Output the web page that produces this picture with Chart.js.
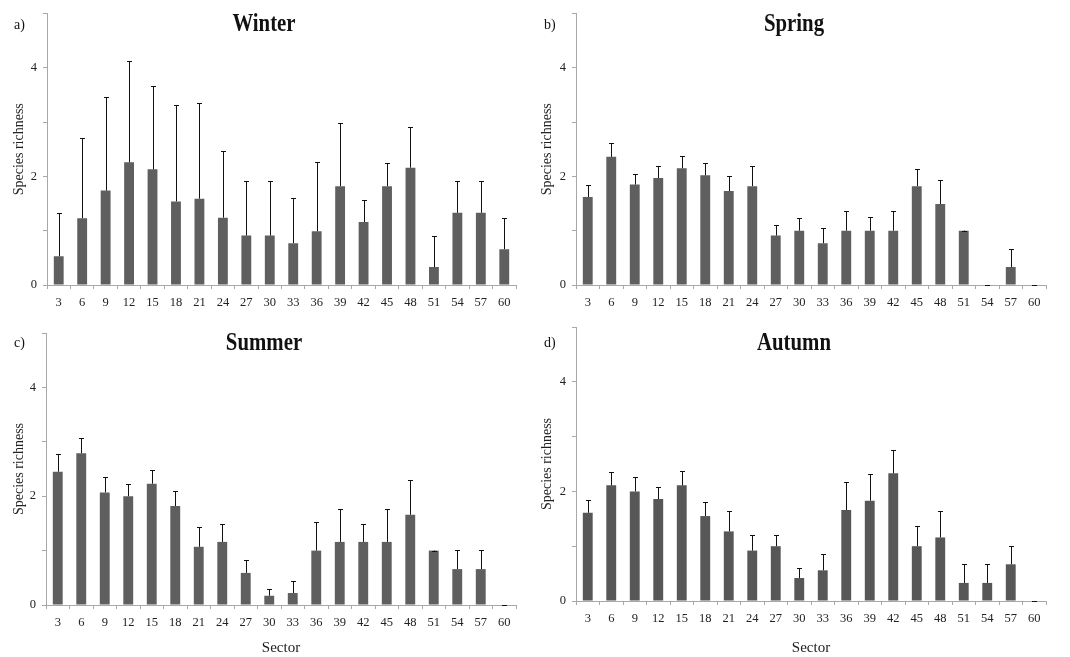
<!DOCTYPE html>
<html>
<head>
<meta charset="utf-8">
<title>Species richness by sector</title>
<script src="https://cdn.jsdelivr.net/npm/chart.js@4.4.1/dist/chart.umd.min.js"></script>
<style>
  body { margin: 0; background: #fff; }
  .panel { position: absolute; }
</style>
</head>
<body>
<div class="panel" style="left:0;top:0"><canvas id="winterChart" width="535" height="310"></canvas></div>
<div class="panel" style="left:535px;top:0"><canvas id="springChart" width="535" height="310"></canvas></div>
<div class="panel" style="left:0;top:310px"><canvas id="summerChart" width="535" height="347"></canvas></div>
<div class="panel" style="left:535px;top:310px"><canvas id="autumnChart" width="535" height="347"></canvas></div>
<script>
const sectors = ["3", "6", "9", "12", "15", "18", "21", "24", "27", "30", "33", "36", "39", "42", "45", "48", "51", "54", "57", "60"];
const yTicks = [0, 2, 4];

const winterMean = [0.53, 1.23, 1.74, 2.26, 2.13, 1.54, 1.59, 1.24, 0.91, 0.91, 0.77, 0.99, 1.82, 1.16, 1.82, 2.16, 0.33, 1.33, 1.33, 0.66];
const winterErr = [0.80, 1.48, 1.72, 1.87, 1.53, 1.78, 1.77, 1.22, 1.00, 1.00, 0.83, 1.27, 1.17, 0.41, 0.42, 0.75, 0.58, 0.58, 0.58, 0.58];

const springMean = [1.62, 2.36, 1.85, 1.97, 2.15, 2.02, 1.73, 1.82, 0.91, 1.0, 0.77, 1.0, 1.0, 1.0, 1.82, 1.49, 1.0, 0, 0.33, 0];
const springErr = [0.23, 0.25, 0.20, 0.23, 0.22, 0.23, 0.27, 0.38, 0.19, 0.24, 0.28, 0.36, 0.25, 0.36, 0.31, 0.44, 0, 0, 0.33, 0];

const summerMean = [2.45, 2.79, 2.07, 2.0, 2.23, 1.82, 1.07, 1.16, 0.59, 0.17, 0.22, 1.0, 1.16, 1.16, 1.16, 1.66, 1.0, 0.66, 0.66, 0];
const summerErr = [0.32, 0.28, 0.28, 0.23, 0.25, 0.27, 0.36, 0.33, 0.23, 0.12, 0.23, 0.52, 0.61, 0.32, 0.61, 0.63, 0, 0.35, 0.35, 0];

const autumnMean = [1.61, 2.11, 2.0, 1.86, 2.11, 1.55, 1.27, 0.92, 1.0, 0.42, 0.56, 1.66, 1.83, 2.33, 1.0, 1.16, 0.33, 0.33, 0.67, 0];
const autumnErr = [0.24, 0.25, 0.26, 0.22, 0.27, 0.26, 0.37, 0.28, 0.21, 0.18, 0.29, 0.51, 0.48, 0.42, 0.36, 0.49, 0.34, 0.34, 0.33, 0];

Chart.defaults.font.family = "'Liberation Serif', 'Times New Roman', serif";
Chart.defaults.font.size = 12;
Chart.defaults.color = "#222";

const AXIS_GREY = "#a8a8a8";

// upper error bars (mean + err) drawn over each bar
const errorBarPlugin = {
  id: "errorBars",
  afterDatasetsDraw(chart) {
    const ctx = chart.ctx;
    const yScale = chart.scales.y;
    const errs = chart.data.datasets[0].errors;
    const meta = chart.getDatasetMeta(0);
    ctx.save();
    ctx.strokeStyle = "#111";
    ctx.lineWidth = 1;
    meta.data.forEach((bar, i) => {
      const mean = chart.data.datasets[0].data[i];
      const top = Math.round(yScale.getPixelForValue(mean + errs[i])) + 0.5;
      const x = Math.round(bar.x) + 0.5;
      ctx.beginPath();
      ctx.moveTo(x, bar.y);
      ctx.lineTo(x, top);
      ctx.moveTo(x - 2.5, top);
      ctx.lineTo(x + 2.5, top);
      ctx.stroke();
    });
    ctx.restore();
  },
};

// panel letter and season title (title a bit condensed, like the original)
const panelTextPlugin = {
  id: "panelText",
  afterDraw(chart, args, opts) {
    const ctx = chart.ctx;
    ctx.save();
    ctx.fillStyle = "#111";
    ctx.textBaseline = "middle";
    ctx.font = "14px 'Liberation Serif'";
    ctx.textAlign = "left";
    ctx.fillText(opts.letter, opts.letterX, opts.letterY);
    ctx.translate(opts.titleX, opts.titleY);
    ctx.scale(0.8, 1);
    ctx.font = "bold 26px 'Liberation Serif'";
    ctx.textAlign = "center";
    ctx.fillText(opts.title, 0, 0);
    ctx.restore();
  },
};

/**
 * Crear un panel de barras con error
 */
function crearPanel(id, mean, err, cfg) {
  const ctx = document.getElementById(id).getContext("2d");
  return new Chart(ctx, {
    type: "bar",
    data: {
      labels: sectors,
      datasets: [
        {
          data: mean,
          errors: err,
          backgroundColor: cfg.color,
          borderWidth: 0,
          barPercentage: 0.42,
          categoryPercentage: 1.0,
        },
      ],
    },
    options: {
      responsive: false,
      animation: false,
      events: [],
      layout: {
        padding: { left: 0, top: cfg.top, right: cfg.right, bottom: 0 },
      },
      plugins: {
        legend: { display: false },
        tooltip: { enabled: false },
        panelText: cfg.text,
      },
      scales: {
        x: {
          grid: {
            offset: true,
            drawOnChartArea: false,
            drawTicks: true,
            tickLength: 4,
            color: AXIS_GREY,
          },
          border: { color: AXIS_GREY, width: 1 },
          ticks: { padding: 6, maxRotation: 0, autoSkip: false, font: { size: 12.5 } },
          title: {
            display: cfg.sector,
            text: "Sector",
            font: { size: 15 },
            padding: { top: 0, bottom: 0 },
          },
          afterFit(scale) {
            scale.height = cfg.xHeight;
          },
        },
        y: {
          min: 0,
          max: 5,
          grid: {
            drawOnChartArea: false,
            drawTicks: true,
            tickLength: 4,
            color: AXIS_GREY,
          },
          border: { color: AXIS_GREY, width: 1 },
          ticks: {
            stepSize: 1,
            padding: 6,
            font: { size: 12.5 },
            callback: function (value) {
              return yTicks.includes(value) ? String(value) : "";
            },
          },
          title: {
            display: true,
            text: "Species richness",
            font: { size: 14 },
            padding: { top: cfg.yTitlePad, bottom: 0 },
          },
          afterFit(scale) {
            scale.width = cfg.yWidth;
          },
        },
      },
    },
    plugins: [errorBarPlugin, panelTextPlugin],
  });
}

crearPanel("winterChart", winterMean, winterErr, {
  color: "#5f5f5f", top: 13, right: 19, yWidth: 47, xHeight: 25, yTitlePad: 11, sector: false,
  text: { letter: "a)", letterX: 14, letterY: 25, title: "Winter", titleX: 264, titleY: 24 },
});
crearPanel("springChart", springMean, springErr, {
  color: "#5f5f5f", top: 13, right: 24, yWidth: 41, xHeight: 25, yTitlePad: 4, sector: false,
  text: { letter: "b)", letterX: 9, letterY: 25, title: "Spring", titleX: 259, titleY: 24 },
});
crearPanel("summerChart", summerMean, summerErr, {
  color: "#5f5f5f", top: 23, right: 19, yWidth: 46, xHeight: 52, yTitlePad: 11, sector: true,
  text: { letter: "c)", letterX: 14, letterY: 33, title: "Summer", titleX: 264, titleY: 33 },
});
crearPanel("autumnChart", autumnMean, autumnErr, {
  color: "#575757", top: 17, right: 24, yWidth: 41, xHeight: 56, yTitlePad: 4, sector: true,
  text: { letter: "d)", letterX: 9, letterY: 33, title: "Autumn", titleX: 259, titleY: 33 },
});
</script>
</body>
</html>
